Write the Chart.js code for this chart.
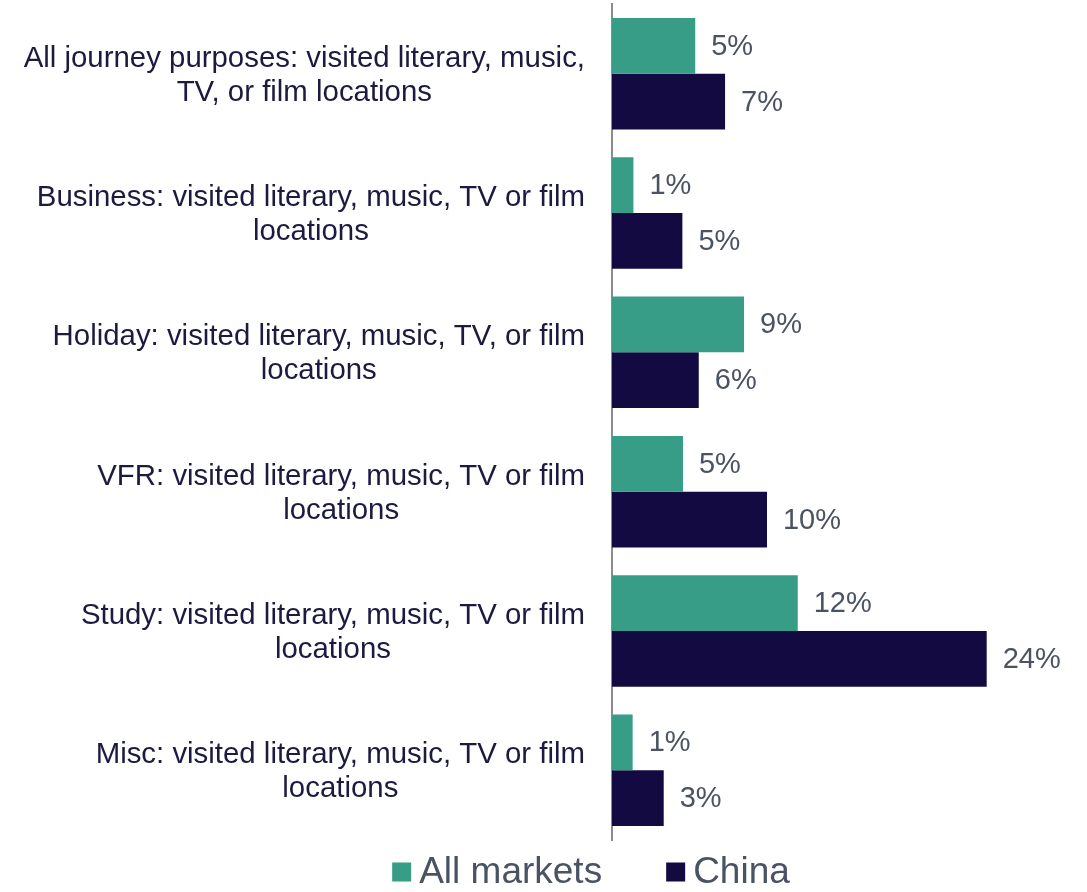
<!DOCTYPE html>
<html>
<head>
<meta charset="utf-8">
<script src="https://cdn.jsdelivr.net/npm/chart.js@4/dist/chart.umd.min.js"></script>
<style>
  html, body { margin: 0; padding: 0; background: #ffffff; }
  #wrap { position: relative; width: 1087px; height: 892px; }
</style>
</head>
<body>
<div id="wrap"><canvas id="chart"></canvas></div>
<script>
// Category labels, one array of lines per journey purpose
const categories = [
  ['All journey purposes: visited literary, music,', 'TV, or film locations'],
  ['Business: visited literary, music, TV or film', 'locations'],
  ['Holiday: visited literary, music, TV, or film', 'locations'],
  ['VFR: visited literary, music, TV or film', 'locations'],
  ['Study: visited literary, music, TV or film', 'locations'],
  ['Misc: visited literary, music, TV or film', 'locations']
];

// Share of visitors (%) who visited literary, music, TV or film locations
const allMarkets = [5.44, 1.40, 8.63, 4.64, 12.14, 1.35];
const china      = [7.39, 4.60, 5.67, 10.13, 24.49, 3.38];

const seriesNames = ['All markets', 'China'];
const seriesColors = ['#389d86', '#130a42'];

const FONT = '"Liberation Sans", Arial, Helvetica, sans-serif';

// Two-line category labels: each block right-aligned to the axis, lines centred within it
const categoryLabels = {
  id: 'categoryLabels',
  afterDraw(chart) {
    const ctx = chart.ctx;
    const y = chart.scales.y;
    const right = chart.chartArea.left - 27;
    const lineH = 34;
    ctx.save();
    ctx.font = '29.4px ' + FONT;
    ctx.fillStyle = '#1c1a40';
    ctx.textAlign = 'center';
    ctx.textBaseline = 'middle';
    chart.data.labels.forEach((lines, i) => {
      const w = Math.max(...lines.map(l => ctx.measureText(l).width));
      const cx = right - w / 2;
      const cy = y.getPixelForValue(i) + 2;
      const top = cy - (lines.length - 1) * lineH / 2;
      lines.forEach((l, k) => ctx.fillText(l, cx, top + k * lineH));
    });
    ctx.restore();
  }
};

// Percentage labels at the end of each bar
const valueLabels = {
  id: 'valueLabels',
  afterDatasetsDraw(chart) {
    const ctx = chart.ctx;
    ctx.save();
    ctx.font = '29px ' + FONT;
    ctx.fillStyle = '#4a5363';
    ctx.textAlign = 'left';
    ctx.textBaseline = 'middle';
    chart.data.datasets.forEach((ds, di) => {
      chart.getDatasetMeta(di).data.forEach((bar, i) => {
        ctx.fillText(Math.round(ds.data[i]) + '%', bar.x + 16, bar.y + 1);
      });
    });
    ctx.restore();
  }
};

// Legend row under the plot
const bottomLegend = {
  id: 'bottomLegend',
  afterDraw(chart) {
    const ctx = chart.ctx;
    const box = 19, gapText = 8, gapItem = 64;
    const cy = 872, centerX = 591;
    ctx.save();
    ctx.font = '37px ' + FONT;
    ctx.textBaseline = 'middle';
    ctx.textAlign = 'left';
    const widths = chart.data.datasets.map(ds => ctx.measureText(ds.label).width);
    let total = 0;
    widths.forEach((w, i) => { total += box + gapText + w + (i < widths.length - 1 ? gapItem : 0); });
    let x = centerX - total / 2;
    chart.data.datasets.forEach((ds, i) => {
      ctx.fillStyle = ds.backgroundColor;
      ctx.fillRect(x, cy - box / 2, box, box);
      x += box + gapText;
      ctx.fillStyle = '#4a5363';
      ctx.fillText(ds.label, x, cy + 1);
      x += widths[i] + gapItem;
    });
    ctx.restore();
  }
};

new Chart(document.getElementById('chart'), {
  type: 'bar',
  data: {
    labels: categories,
    datasets: [
      { label: seriesNames[0], data: allMarkets, backgroundColor: seriesColors[0] },
      { label: seriesNames[1], data: china, backgroundColor: seriesColors[1] }
    ]
  },
  options: {
    indexAxis: 'y',
    responsive: true,
    maintainAspectRatio: false,
    animation: false,
    layout: { padding: { top: 4, right: 16, bottom: 52, left: 0 } },
    datasets: { bar: { categoryPercentage: 0.8, barPercentage: 1.0, borderWidth: 0 } },
    scales: {
      x: {
        display: false,
        min: 0,
        max: 30
      },
      y: {
        grid: { display: false, drawTicks: false },
        border: { display: true, color: '#8c8c8c', width: 2 },
        ticks: { display: false },
        afterFit(scale) { scale.width = 612; }
      }
    },
    plugins: {
      legend: { display: false },
      tooltip: { enabled: false }
    }
  },
  plugins: [categoryLabels, valueLabels, bottomLegend]
});
</script>
</body>
</html>
